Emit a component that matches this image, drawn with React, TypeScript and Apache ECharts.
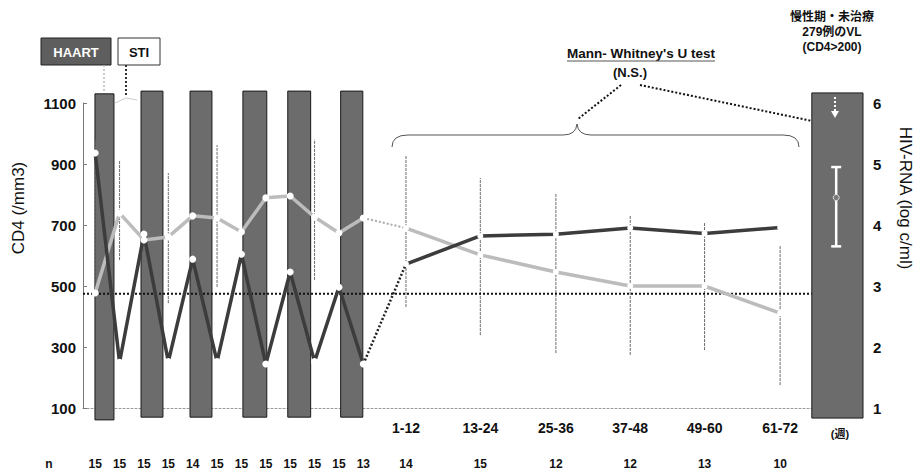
import React, { useEffect, useRef } from "react";
import * as echarts from "echarts";

// ---- data ----
const stiX = [0.5, 1.5, 2.5, 3.5, 4.5, 5.5, 6.5, 7.5, 8.5, 9.5, 10.5, 11.5];
const stiN = [15, 15, 15, 15, 14, 15, 15, 15, 15, 15, 15, 13];
const cd4Sti = [477, 739, 651, 661, 730, 723, 677, 789, 795, 726, 674, 723];
const hivSti = [5.18, 1.75, 3.85, 1.76, 3.44, 1.76, 3.52, 1.72, 3.23, 1.76, 2.98, 1.72];
const cd4StiErrLow = [477, 585, null, 444, null, 497, null, null, null, 520, null, null];
const cd4StiErrHigh = [980, 913, null, 870, null, 962, null, null, null, 980, null, null];

const weekLabels = ["1-12", "13-24", "25-36", "37-48", "49-60", "61-72"];
const weekX = [13.25, 16.3, 19.4, 22.45, 25.5, 28.6];
const weekN = [14, 15, 12, 12, 13, 10];
const cd4Week = [690, 602, 546, 500, 500, 411];
const hivWeek = [3.36, 3.82, 3.85, 3.95, 3.86, 3.96];
const cd4WeekErrLow = [431, 339, 280, 274, 290, 175];
const cd4WeekErrHigh = [929, 854, 805, 733, 707, 634];

const haartStart = [0.49, 2.38, 4.39, 6.56, 8.4, 10.57];
const haartEnd = [1.27, 3.28, 5.29, 7.54, 9.34, 11.48];
const haartTop = [1130, 1139, 1139, 1139, 1139, 1139];
const haartBottom = [61, 70, 70, 70, 70, 70];

const untreatedRange = [29.9, 32];
const untreatedTopBottom = [1133, 67];
const untreatedX = 30.9;
const untreatedVL = [3.65, 4.45, 4.95]; // low, mean, high

const cd4Threshold = 475;
const cd4Ticks = [100, 300, 500, 700, 900, 1100];

const FONT = "'Liberation Sans', Arial, 'Noto Sans CJK JP', sans-serif";

export default function App() {
  const ref = useRef<HTMLDivElement>(null);

  useEffect(() => {
    if (!ref.current) return;
    const chart = echarts.init(ref.current, undefined, { renderer: "svg" });

    const allX = [...stiX, ...weekX];
    const allN = [...stiN, ...weekN];

    const errData: number[][] = [];
    stiX.forEach((x, i) => {
      if (cd4StiErrLow[i] != null && cd4StiErrHigh[i] != null)
        errData.push([x, cd4StiErrLow[i] as number, cd4StiErrHigh[i] as number]);
    });
    weekX.forEach((x, i) => errData.push([x, cd4WeekErrLow[i], cd4WeekErrHigh[i]]));

    const barRender = (params: any, api: any) => {
      const p0 = api.coord([api.value(0), api.value(2)]);
      const p1 = api.coord([api.value(1), api.value(3)]);
      return {
        type: "rect",
        shape: { x: p0[0], y: p0[1], width: p1[0] - p0[0], height: p1[1] - p0[1] },
        style: { fill: "#6c6c6c", stroke: "#1a1a1a", lineWidth: 1 },
      };
    };

    const whiteCircle = { color: "#ffffff", borderWidth: 0 };

    const option: any = {
      animation: false,
      backgroundColor: "#ffffff",
      textStyle: { fontFamily: FONT },
      grid: { left: 83, right: 53, top: 103, bottom: 68, containLabel: false },
      xAxis: [
        {
          type: "value",
          min: 0,
          max: 32,
          position: "bottom",
          axisLine: { show: true, lineStyle: { color: "#9a9a9a", width: 1, type: [2, 2] } },
          axisTick: { show: false },
          splitLine: { show: false },
          axisLabel: {
            customValues: weekX,
            formatter: (v: number) => {
              const j = weekX.findIndex((x) => Math.abs(x - v) < 1e-6);
              return j >= 0 ? weekLabels[j] : "";
            },
            fontWeight: "bold",
            fontSize: 14,
            color: "#111",
            margin: 13,
            fontFamily: FONT,
          },
        },
        {
          type: "value",
          min: 0,
          max: 32,
          position: "bottom",
          offset: 38,
          axisLine: { show: false },
          axisTick: { show: false },
          splitLine: { show: false },
          axisLabel: {
            customValues: allX,
            formatter: (v: number) => {
              const j = allX.findIndex((x) => Math.abs(x - v) < 1e-6);
              return j >= 0 ? String(allN[j]) : "";
            },
            fontWeight: "bold",
            fontSize: 12,
            color: "#111",
            margin: 12,
            fontFamily: FONT,
          },
        },
      ],
      yAxis: [
        {
          type: "value",
          min: 100,
          max: 1100,
          position: "left",
          axisLine: { show: true, lineStyle: { color: "#7a7a7a", width: 1 } },
          axisTick: { show: true, inside: true, length: 4, customValues: cd4Ticks, lineStyle: { color: "#7a7a7a" } },
          axisLabel: {
            customValues: cd4Ticks,
            formatter: (v: number) => String(v),
            fontWeight: "bold",
            fontSize: 15,
            color: "#111",
            margin: 7,
            fontFamily: FONT,
          },
          splitLine: { show: false },
        },
        {
          type: "value",
          min: 1,
          max: 6,
          interval: 1,
          position: "right",
          axisLine: { show: false },
          axisTick: { show: false },
          axisLabel: { fontWeight: "bold", fontSize: 15, color: "#111", margin: 10, fontFamily: FONT },
          splitLine: { show: false },
        },
      ],
      series: [
        {
          type: "custom",
          name: "HAART",
          xAxisIndex: 0,
          yAxisIndex: 0,
          clip: false,
          z: 1,
          renderItem: barRender,
          data: haartStart.map((s, i) => [s, haartEnd[i], haartTop[i], haartBottom[i]]),
        },
        {
          type: "custom",
          name: "untreated",
          xAxisIndex: 0,
          yAxisIndex: 0,
          clip: false,
          z: 1,
          renderItem: barRender,
          data: [[untreatedRange[0], untreatedRange[1], untreatedTopBottom[0], untreatedTopBottom[1]]],
        },
        {
          type: "line",
          name: "threshold",
          xAxisIndex: 0,
          yAxisIndex: 0,
          symbol: "none",
          z: 3,
          lineStyle: { color: "#111", width: 2, type: [2, 2] },
          data: [
            [0, cd4Threshold],
            [untreatedRange[0], cd4Threshold],
          ],
        },
        {
          type: "custom",
          name: "cd4err",
          xAxisIndex: 0,
          yAxisIndex: 0,
          z: 2,
          renderItem: (params: any, api: any) => {
            const a = api.coord([api.value(0), api.value(1)]);
            const b = api.coord([api.value(0), api.value(2)]);
            return {
              type: "line",
              shape: { x1: a[0], y1: a[1], x2: b[0], y2: b[1] },
              style: { stroke: "#6a6a6a", lineWidth: 1, lineDash: [3, 1] },
            };
          },
          data: errData,
        },
        {
          type: "line",
          name: "CD4 STI",
          xAxisIndex: 0,
          yAxisIndex: 0,
          z: 5,
          symbol: "circle",
          symbolSize: 7,
          itemStyle: whiteCircle,
          lineStyle: { color: "#bcbcbc", width: 3.5 },
          data: stiX.map((x, i) => [x, cd4Sti[i]]),
        },
        {
          type: "line",
          name: "HIV STI",
          xAxisIndex: 0,
          yAxisIndex: 1,
          z: 5,
          symbol: "circle",
          symbolSize: 7,
          itemStyle: whiteCircle,
          lineStyle: { color: "#3c3c3c", width: 3.5 },
          data: stiX.map((x, i) => [x, hivSti[i]]),
        },
        {
          type: "line",
          name: "CD4 conn",
          xAxisIndex: 0,
          yAxisIndex: 0,
          z: 4,
          symbol: "none",
          lineStyle: { color: "#aaaaaa", width: 2, type: [2, 2] },
          data: [
            [stiX[stiX.length - 1], cd4Sti[cd4Sti.length - 1]],
            [weekX[0], cd4Week[0]],
          ],
        },
        {
          type: "line",
          name: "HIV conn",
          xAxisIndex: 0,
          yAxisIndex: 1,
          z: 4,
          symbol: "none",
          lineStyle: { color: "#222", width: 2.5, type: [2, 2] },
          data: [
            [stiX[stiX.length - 1], hivSti[hivSti.length - 1]],
            [weekX[0], hivWeek[0]],
          ],
        },
        {
          type: "line",
          name: "CD4 weeks",
          xAxisIndex: 0,
          yAxisIndex: 0,
          z: 5,
          symbol: "circle",
          symbolSize: 6,
          itemStyle: whiteCircle,
          lineStyle: { color: "#bcbcbc", width: 3.5 },
          data: weekX.map((x, i) => [x, cd4Week[i]]),
        },
        {
          type: "line",
          name: "HIV weeks",
          xAxisIndex: 0,
          yAxisIndex: 1,
          z: 5,
          symbol: "circle",
          symbolSize: 6,
          itemStyle: whiteCircle,
          lineStyle: { color: "#3c3c3c", width: 3.5 },
          data: weekX.map((x, i) => [x, hivWeek[i]]),
        },
        {
          type: "custom",
          name: "untreated VL",
          xAxisIndex: 0,
          yAxisIndex: 1,
          clip: false,
          z: 6,
          renderItem: (params: any, api: any) => {
            const lo = api.coord([api.value(0), api.value(1)]);
            const mid = api.coord([api.value(0), api.value(2)]);
            const hi = api.coord([api.value(0), api.value(3)]);
            const x = lo[0];
            return {
              type: "group",
              children: [
                { type: "line", shape: { x1: x, y1: hi[1], x2: x, y2: lo[1] }, style: { stroke: "#fff", lineWidth: 2.5 } },
                { type: "line", shape: { x1: x - 5, y1: hi[1], x2: x + 5, y2: hi[1] }, style: { stroke: "#fff", lineWidth: 2.5 } },
                { type: "line", shape: { x1: x - 5, y1: lo[1], x2: x + 5, y2: lo[1] }, style: { stroke: "#fff", lineWidth: 2.5 } },
                { type: "circle", shape: { cx: x, cy: mid[1], r: 3 }, style: { fill: "#7a7a7a", stroke: "#ddd", lineWidth: 1 } },
              ],
            };
          },
          data: [[untreatedX, untreatedVL[0], untreatedVL[1], untreatedVL[2]]],
        },
      ],
      graphic: [
        // legend boxes
        { type: "rect", shape: { x: 41, y: 38, width: 70, height: 27 }, style: { fill: "#5e5e5e", stroke: "#222", lineWidth: 1 } },
        { type: "text", x: 76, y: 52, style: { text: "HAART", fill: "#fff", font: `bold 13px ${FONT}`, align: "center", verticalAlign: "middle" } },
        { type: "rect", shape: { x: 118, y: 38, width: 42, height: 27 }, style: { fill: "#fff", stroke: "#333", lineWidth: 1 } },
        { type: "text", x: 139, y: 52, style: { text: "STI", fill: "#111", font: `bold 13px ${FONT}`, align: "center", verticalAlign: "middle" } },
        { type: "line", shape: { x1: 104, y1: 65, x2: 104, y2: 97 }, style: { stroke: "#bbb", lineWidth: 1.5, lineDash: [2, 2] } },
        { type: "line", shape: { x1: 126, y1: 65, x2: 126, y2: 97 }, style: { stroke: "#333", lineWidth: 2, lineDash: [2, 2] } },
        { type: "polyline", shape: { points: [[115, 103], [126, 98], [137, 100]] }, style: { stroke: "#ccc", lineWidth: 1, fill: "none" } },
        // Mann-Whitney annotation
        { type: "text", x: 641, y: 53, style: { text: "Mann- Whitney's U test", fill: "#111", font: `bold 13.5px ${FONT}`, align: "center", verticalAlign: "middle" } },
        { type: "line", shape: { x1: 567, y1: 61, x2: 715, y2: 61 }, style: { stroke: "#555", lineWidth: 1 } },
        { type: "text", x: 630, y: 72, style: { text: "(N.S.)", fill: "#111", font: `bold 13px ${FONT}`, align: "center", verticalAlign: "middle" } },
        { type: "line", shape: { x1: 621, y1: 85, x2: 578, y2: 119 }, style: { stroke: "#111", lineWidth: 2, lineDash: [2, 2] } },
        { type: "line", shape: { x1: 640, y1: 85, x2: 812, y2: 121 }, style: { stroke: "#111", lineWidth: 2, lineDash: [2, 2] } },
        // brace
        { type: "bezierCurve", shape: { x1: 392, y1: 147, cpx1: 392, cpy1: 135, x2: 408, y2: 135 }, style: { stroke: "#555", lineWidth: 1, fill: "none" } },
        { type: "line", shape: { x1: 408, y1: 135, x2: 563, y2: 135 }, style: { stroke: "#555", lineWidth: 1 } },
        { type: "bezierCurve", shape: { x1: 563, y1: 135, cpx1: 576, cpy1: 135, x2: 577, y2: 124 }, style: { stroke: "#555", lineWidth: 1, fill: "none" } },
        { type: "bezierCurve", shape: { x1: 577, y1: 124, cpx1: 578, cpy1: 135, x2: 591, y2: 135 }, style: { stroke: "#555", lineWidth: 1, fill: "none" } },
        { type: "line", shape: { x1: 591, y1: 135, x2: 783, y2: 135 }, style: { stroke: "#555", lineWidth: 1 } },
        { type: "bezierCurve", shape: { x1: 783, y1: 135, cpx1: 799, cpy1: 135, x2: 799, y2: 147 }, style: { stroke: "#555", lineWidth: 1, fill: "none" } },
        // untreated annotation
        { type: "text", x: 832, y: 17, style: { text: "慢性期・未治療", fill: "#111", font: `bold 12px ${FONT}`, align: "center", verticalAlign: "middle" } },
        { type: "text", x: 832, y: 32, style: { text: "279例のVL", fill: "#111", font: `bold 12px ${FONT}`, align: "center", verticalAlign: "middle" } },
        { type: "text", x: 832, y: 47, style: { text: "(CD4>200)", fill: "#111", font: `bold 12px ${FONT}`, align: "center", verticalAlign: "middle" } },
        { type: "line", z: 100, shape: { x1: 835, y1: 97, x2: 835, y2: 111 }, style: { stroke: "#fff", lineWidth: 2, lineDash: [2, 2] } },
        { type: "polygon", z: 100, shape: { points: [[831, 111], [839, 111], [835, 118]] }, style: { fill: "#fff" } },
        // axis titles
        { type: "text", x: 18, y: 208, rotation: Math.PI / 2, style: { text: "CD4 (/mm3)", fill: "#111", font: `17px ${FONT}`, align: "center", verticalAlign: "middle" } },
        { type: "text", x: 905, y: 198, rotation: -Math.PI / 2, style: { text: "HIV-RNA (log c/ml)", fill: "#111", font: `17px ${FONT}`, align: "center", verticalAlign: "middle" } },
        { type: "text", x: 840, y: 434, style: { text: "(週)", fill: "#111", font: `bold 11px ${FONT}`, align: "center", verticalAlign: "middle" } },
        { type: "text", x: 49, y: 464, style: { text: "n", fill: "#111", font: `bold 12px ${FONT}`, align: "center", verticalAlign: "middle" } },
      ],
    };

    chart.setOption(option);
    return () => chart.dispose();
  }, []);

  return (
    <div
      ref={ref}
      style={{ position: "fixed", left: 0, top: 0, width: 916, height: 476, background: "#fff" }}
    />
  );
}
